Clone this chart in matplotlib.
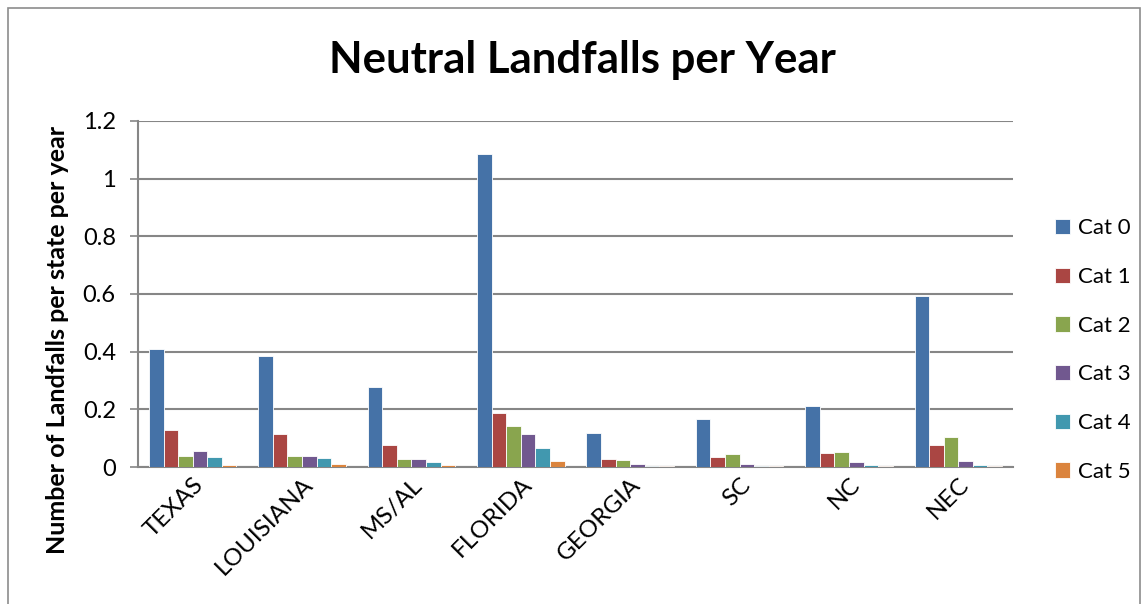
import numpy as np
import matplotlib
matplotlib.use('Agg')
import matplotlib.pyplot as plt
from matplotlib.patches import Rectangle

# Estados / regioes costeiras
estados = ['TEXAS', 'LOUISIANA', 'MS/AL', 'FLORIDA', 'GEORGIA', 'SC', 'NC', 'NEC']
categorias = ['Cat 0', 'Cat 1', 'Cat 2', 'Cat 3', 'Cat 4', 'Cat 5']

# Landfalls por ano em anos neutros, uma lista por categoria
cat0 = [0.408, 0.386, 0.276, 1.085, 0.119, 0.166, 0.213, 0.592]
cat1 = [0.129, 0.114, 0.076, 0.188, 0.028, 0.035, 0.050, 0.076]
cat2 = [0.039, 0.037, 0.029, 0.142, 0.024, 0.044, 0.052, 0.105]
cat3 = [0.056, 0.039, 0.029, 0.113, 0.010, 0.010, 0.016, 0.021]
cat4 = [0.035, 0.031, 0.017, 0.066, 0.004, 0.003, 0.006, 0.006]
cat5 = [0.008, 0.010, 0.007, 0.021, 0.003, 0.002, 0.003, 0.003]

cores = ['#4572A7', '#AA4643', '#89A54E', '#71588F', '#4198AF', '#DB843D']

plt.rcParams['font.family'] = ['Lato', 'DejaVu Sans']

fig = plt.figure(figsize=(11.45, 6.04), dpi=100)
ax = fig.add_axes([138 / 1145, 1 - 467 / 604, 875 / 1145, 346 / 604])

# Moldura cinza em volta do grafico
fig.patches.append(Rectangle((8 / 1145, -0.05), 1132 / 1145, 1 - 8 / 604 + 0.05,
                             transform=fig.transFigure, fill=False,
                             edgecolor='#8c8c8c', linewidth=1.2))

series = [cat0, cat1, cat2, cat3, cat4, cat5]
x = np.arange(len(estados))
largura = 0.8 / len(series)
for i, (valores, nome) in enumerate(zip(series, categorias)):
    pos = x - 0.4 + largura * (i + 0.5)
    ax.bar(pos, valores, width=largura, color=cores[i], label=nome,
           edgecolor='white', linewidth=0.6, zorder=3)

ax.set_xlim(-0.5, len(estados) - 0.5)
ax.set_ylim(0, 1.2)
ax.set_yticks([0, 0.2, 0.4, 0.6, 0.8, 1, 1.2])
ax.set_yticklabels(['0', '0.2', '0.4', '0.6', '0.8', '1', '1.2'], fontsize=17)
ax.yaxis.grid(True, color='#868686', linewidth=1.5, zorder=0)
ax.set_xticks(x)
ax.set_xticklabels(estados, rotation=45, ha='right', rotation_mode='anchor', fontsize=17.5)
ax.tick_params(axis='x', length=0, pad=5)
ax.tick_params(axis='y', length=6, width=1.2, color='#868686', pad=10)

for lado in ['top', 'right']:
    ax.spines[lado].set_visible(False)
for lado in ['left', 'bottom']:
    ax.spines[lado].set_color('#868686')
    ax.spines[lado].set_linewidth(1.5)

fig.text(582 / 1145, 1 - 60 / 604, 'Neutral Landfalls per Year', ha='center', va='center',
         fontsize=31.5, fontweight='bold')
fig.text(58 / 1145, 1 - 340 / 604, 'Number of Landfalls per state per year', ha='center',
         va='center', rotation=90, fontsize=18, fontweight='bold')

# Legenda fora da area de plotagem, a direita
ax.legend(loc='center left', bbox_to_anchor=(1055 / 1145, 1 - 350 / 604),
          bbox_transform=fig.transFigure, frameon=False, fontsize=16,
          borderaxespad=0, borderpad=0, handlelength=0.68, handleheight=0.68,
          labelspacing=1.29, handletextpad=0.35)

fig.savefig('out.png', dpi=100)
